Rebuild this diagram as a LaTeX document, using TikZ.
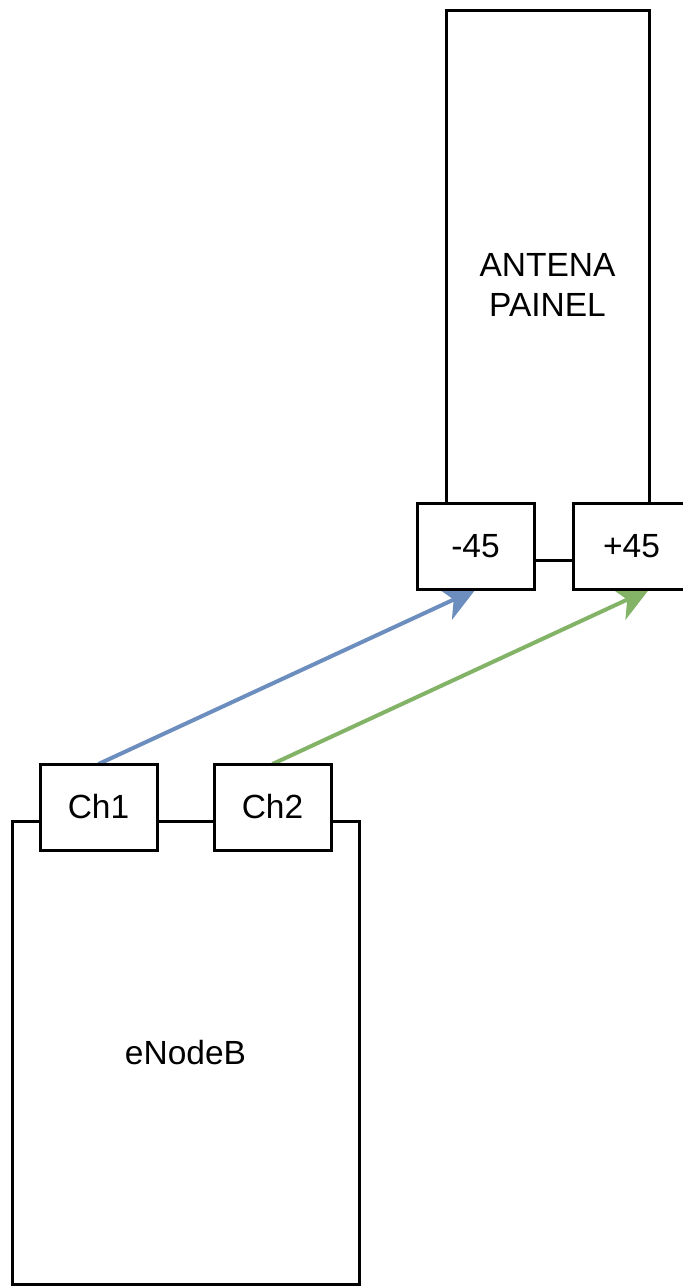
\documentclass[tikz,border=0pt]{standalone}
\usepackage{fontspec}
\setmainfont{Liberation Sans}
\usetikzlibrary{arrows.meta}
\definecolor{bluearrow}{HTML}{6C8EBF}
\definecolor{greenarrow}{HTML}{82B366}
\tikzset{
  boxstyle/.style={draw=black, fill=white, line width=3pt, rectangle, inner sep=0pt, align=center,
    font=\fontsize{33.5}{40}\selectfont},
  portbox/.style={boxstyle, minimum width=117pt, minimum height=86pt},
  link/.style={line width=4pt, -{Stealth[length=34pt, width=35pt, inset=10pt]}},
}
\begin{document}
\begin{tikzpicture}[x=1pt, y=-1pt]
  \useasboundingbox (0,0) rectangle (683,1286);
  \begin{scope}
  \clip (0,0) rectangle (683,1286);
  % main bodies
  \node[boxstyle, minimum width=203pt, minimum height=550pt] (antena) at (547.5,285) {ANTENA\\PAINEL};
  \node[boxstyle, minimum width=347pt, minimum height=463pt] (enb) at (185.5,1052.5) {eNodeB};
  % arrow end points
  \coordinate (gtip) at (649,589.5);
  \coordinate (btip) at (475.5,589.5);
  \coordinate (bstart) at (98.5,764);
  \coordinate (gstart) at (272.5,764);
  % arrows (drawn under the port boxes)
  \draw[link, draw=bluearrow, fill=bluearrow] (bstart) -- (btip);
  \draw[link, draw=greenarrow, fill=greenarrow] (gstart) -- (gtip);
  % ports
  \node[portbox] (m45) at (475.5,546) {-45};
  \node[portbox] (p45) at (631.5,546) {+45};
  \node[portbox] (ch1) at (98.5,807) {Ch1};
  \node[portbox] (ch2) at (272.5,807) {Ch2};
  \end{scope}
\end{tikzpicture}
\end{document}
